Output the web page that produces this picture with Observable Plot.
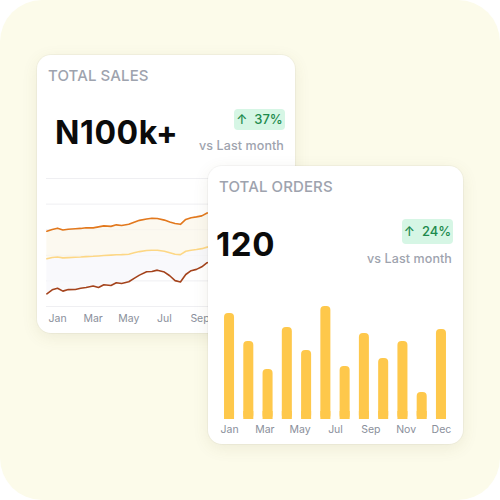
<!DOCTYPE html>
<html>
<head>
<meta charset="utf-8">
<script src="https://cdn.jsdelivr.net/npm/d3@7"></script>
<script src="https://cdn.jsdelivr.net/npm/@observablehq/plot@0.6"></script>
<style>
  html, body { margin: 0; padding: 0; background: #ffffff; }
  body { width: 500px; height: 500px; position: relative; overflow: hidden; font-family: Inter, "Noto Sans", sans-serif; }
  #bg { position: absolute; left: 0; top: 0; width: 500px; height: 500px; background: #fcfbea; border-radius: 42px; }
  .card { position: absolute; background: #ffffff; border-radius: 14px; box-shadow: 0 4px 16px rgba(110, 100, 50, 0.10), 0 0 0 1px rgba(0,0,0,0.03); overflow: hidden; }
  .abs { position: absolute; line-height: 1; white-space: nowrap; }
  .title { font-size: 15px; font-weight: 500; color: #9ea3ae; letter-spacing: 0.1px; }
  .big { font-size: 32px; font-weight: 700; color: #0b0b0b; letter-spacing: 0.6px; }
  .badge { background: #d6f6e5; color: #1d8a4d; border-radius: 4px; font-size: 13px; font-weight: 500; display: flex; align-items: center; justify-content: center; }
  .vs { font-size: 12.5px; color: #9ea3ae; font-weight: 500; letter-spacing: 0.1px; }
  .plot { position: absolute; left: 0; }
</style>
</head>
<body>
<div id="bg"></div>

<div class="card" id="c1" style="left:37px; top:55px; width:258px; height:278px;">
  <div class="abs title" style="left:11px; top:13px;">TOTAL SALES</div>
  <div class="abs big" style="left:18px; top:62px;">N100k+</div>
  <div class="abs badge" style="left:197px; top:54px; width:51px; height:21px;">↑&nbsp; 37%</div>
  <div class="abs vs" style="right:11px; top:85px;">vs Last month</div>
  <div class="plot" id="salesPlot" style="top:115px;"></div>
</div>

<div class="card" id="c2" style="left:208px; top:166px; width:255px; height:278px;">
  <div class="abs title" style="left:11px; top:13px;">TOTAL ORDERS</div>
  <div class="abs big" style="left:8px; top:62px; font-size:33px;">120</div>
  <div class="abs badge" style="left:194px; top:53px; width:51px; height:25px;">↑&nbsp; 24%</div>
  <div class="abs vs" style="right:11px; top:87px;">vs Last month</div>
  <div class="plot" id="ordersPlot" style="top:124px;"></div>
</div>

<script>
// ---- Total sales (line chart) ----
const salesT = [-0.6,-0.3,0,0.3,0.6,1.0,1.3,1.6,2.0,2.3,2.6,3.0,3.3,3.6,4.0,4.3,4.6,5.0,5.3,5.6,6.0,6.3,6.6,6.9,7.2,7.5,7.8,8.1,8.4,8.7];
const salesHigh = [58.8,60.2,61.2,59.8,60.4,60.7,61.0,61.5,61.4,62.2,63.0,62.6,63.8,63.3,64.2,65.8,67.3,68.4,69.0,68.8,67.5,66.0,64.8,64.2,68.0,69.4,70.0,70.8,73.0,73.5];
const salesMid  = [37.3,38.3,38.7,38.0,38.2,38.5,38.7,39.0,39.2,39.5,39.8,40.1,40.4,40.5,40.8,42.0,42.9,43.8,44.0,44.0,43.2,42.0,40.8,40.5,43.2,44.0,44.5,45.2,46.4,47.0];
const salesLow  = [9.9,13.0,14.3,12.0,13.2,13.3,14.2,14.8,16.0,14.8,17.0,16.4,18.5,18.0,19.3,22.0,24.5,27.1,27.4,28.4,26.9,24.0,20.2,19.2,25.0,28.0,29.0,31.0,34.2,35.0];
const salesTicks = [0, 2, 4, 6, 8, 10];
const salesTickLabels = ["Jan", "Mar", "May", "Jul", "Sep", "Nov"];
const salesGrid = [0, 20, 40, 60, 80, 100];

// ---- Total orders (bar chart) ----
const months = ["Jan","Feb","Mar","Apr","May","Jun","Jul","Aug","Sep","Oct","Nov","Dec"];
const orders = [106, 78, 50, 92, 69, 113, 53, 86, 61, 78, 27, 90];
const ordersTicks = [0, 1.833, 3.667, 5.5, 7.333, 9.167, 11];
const ordersTickLabels = ["Jan", "Mar", "May", "Jul", "Sep", "Nov", "Dec"];

const salesRows = salesT.map((t, i) => ({t, high: salesHigh[i], mid: salesMid[i], low: salesLow[i]}));
const orderRows = months.map((m, i) => ({i, month: m, v: orders[i]}));

const axisStyle = {fontFamily: "Inter, sans-serif", fontSize: "10.5px", color: "#8a8f9b", background: "transparent", overflow: "visible"};

const sales = Plot.plot({
  width: 258, height: 162,
  marginLeft: 9, marginRight: 10, marginTop: 8, marginBottom: 26,
  style: axisStyle,
  x: {domain: [-0.62, 12.8], ticks: salesTicks, tickFormat: d => salesTickLabels[salesTicks.indexOf(d)], tickSize: 0, tickPadding: 8, label: null},
  y: {domain: [0, 100], axis: null},
  marks: [
    Plot.ruleY(salesGrid, {stroke: "#efeff2", strokeWidth: 1}),
    Plot.areaY(salesRows, {x: "t", y1: "mid", y2: "high", fill: "#fbf7e9", fillOpacity: 0.7}),
    Plot.areaY(salesRows, {x: "t", y1: "low", y2: "mid", fill: "#f8f8fb", fillOpacity: 0.8}),
    Plot.lineY(salesRows, {x: "t", y: "mid", stroke: "#fdd785", strokeWidth: 1.6}),
    Plot.lineY(salesRows, {x: "t", y: "high", stroke: "#e2781d", strokeWidth: 1.6}),
    Plot.lineY(salesRows, {x: "t", y: "low", stroke: "#a4431c", strokeWidth: 1.6})
  ]
});
document.getElementById("salesPlot").appendChild(sales);

const ordersPlot = Plot.plot({
  width: 255, height: 153,
  marginLeft: 11.4, marginRight: 12.4, marginTop: 9, marginBottom: 24,
  style: axisStyle,
  x: {domain: [-0.5, 11.5], ticks: ordersTicks, tickFormat: d => ordersTickLabels[ordersTicks.indexOf(d)], tickSize: 0, tickPadding: 6, label: null},
  y: {domain: [0, 120], axis: null},
  marks: [
    Plot.rectY(orderRows, {x1: d => d.i - 0.26, x2: d => d.i + 0.26, y: "v", fill: "#fec84b", rx: 4}),
    Plot.rectY(orderRows, {x1: d => d.i - 0.26, x2: d => d.i + 0.26, y: d => Math.min(d.v, 8), fill: "#fec84b"})
  ]
});
document.getElementById("ordersPlot").appendChild(ordersPlot);
</script>
</body>
</html>
